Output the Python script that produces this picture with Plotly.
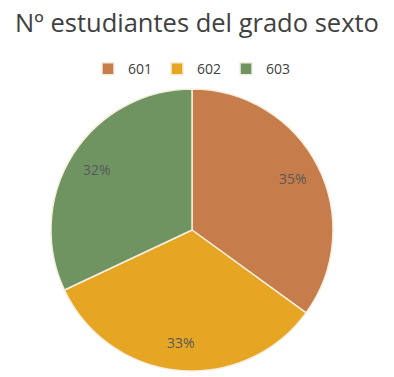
import math
import plotly.graph_objects as go

labels = ["601", "602", "603"]
values = [35, 33, 32]
colors = ["#C67D4B", "#E6A523", "#6F9461"]

fig = go.Figure(go.Pie(
    labels=labels,
    values=values,
    sort=False,
    direction="clockwise",
    rotation=0,
    marker=dict(colors=colors, line=dict(color="#F5EEDC", width=1.5)),
    textinfo="none",
    hoverinfo="label+percent",
))

# percentage labels near the rim, positioned from the values
total = sum(values)
cum = 0
label_r = 0.40  # fraction of the domain (pie radius = 0.5)
for v in values:
    mid = (cum + v / 2) / total * 2 * math.pi
    cum += v
    fig.add_annotation(
        x=0.5 + label_r * math.sin(mid), y=0.5 + label_r * math.cos(mid),
        xref="paper", yref="paper", xanchor="center", yanchor="middle",
        showarrow=False,
        text=f"{round(v / total * 100)}%",
        font=dict(family="Open Sans", size=14, color="#595959"),
    )

fig.update_layout(
    width=394, height=377,
    paper_bgcolor="white",
    margin=dict(l=51, r=61, t=89, b=6, autoexpand=False),
    title=dict(text="Nº estudiantes del grado sexto", x=0.5, xanchor="center",
               y=0.94, yanchor="middle", yref="container",
               font=dict(family="Open Sans", size=25.5, color="#404040")),
    legend=dict(orientation="h", x=0.5, xanchor="center", y=1.07, yanchor="middle",
                font=dict(family="Open Sans", size=14, color="#404040"),
                itemwidth=30, traceorder="normal"),
)

fig.write_html("out.html")
